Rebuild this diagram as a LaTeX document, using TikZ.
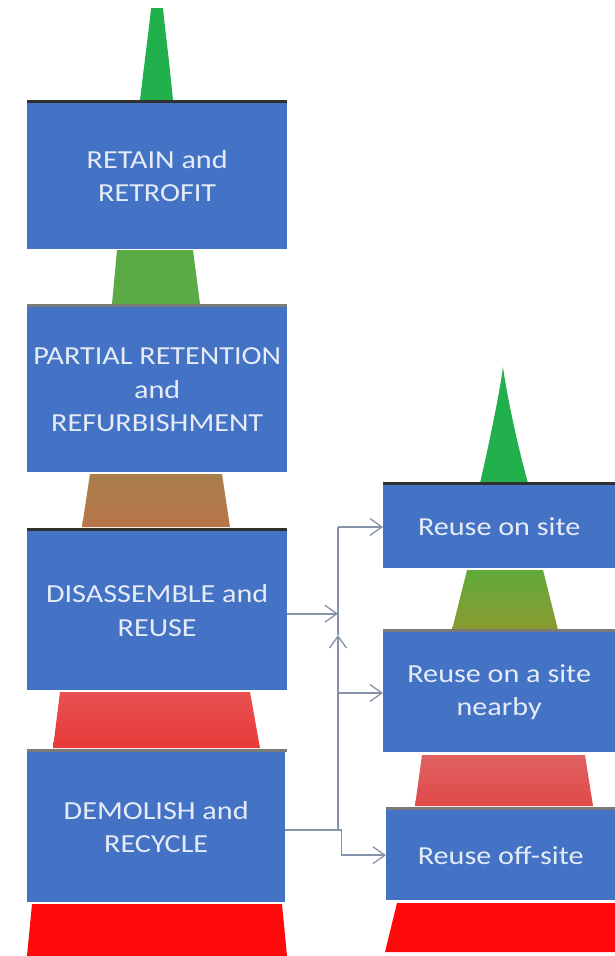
\documentclass[tikz,border=0pt]{standalone}
\usepackage{fontspec}
\usetikzlibrary{arrows.meta}
\newfontfamily\boxfontfam[FakeStretch=1.16]{Carlito}
\definecolor{boxblue}{HTML}{4472C4}
\definecolor{txtcol}{HTML}{E6ECF7}
\definecolor{conncol}{HTML}{8592A8}
\definecolor{topdark}{HTML}{303030}
\definecolor{topgray}{HTML}{7A7A7A}
\definecolor{spiregreen}{HTML}{22B04C}
\definecolor{tgreen}{HTML}{5AAB46}
\definecolor{tbrownA}{HTML}{A87E4A}
\definecolor{tbrownB}{HTML}{B8744A}
\definecolor{tredA}{HTML}{E85050}
\definecolor{tredB}{HTML}{E83A3A}
\definecolor{tred}{HTML}{FF0A0A}
\definecolor{tolivA}{HTML}{62AA3C}
\definecolor{tolivB}{HTML}{8A9A30}
\definecolor{tredrA}{HTML}{E06060}
\definecolor{tredrB}{HTML}{E04A4A}
\tikzset{
  box/.style={fill=boxblue, draw=none, text=txtcol, align=center,
    font=\boxfontfam\fontsize{26}{33.5}\selectfont, inner sep=0pt, anchor=north west},
  topline/.style={line width=3pt},
  conn/.style={draw=conncol, line width=1.6pt},
  arr/.style={conn, -{Straight Barb[length=12pt,width=17pt,line width=1.3pt]}},
}
\begin{document}
\begin{tikzpicture}[x=1pt,y=-1pt]
\useasboundingbox (0,0) rectangle (615,956);
% ---------- left column ----------
\fill[spiregreen] (140,100) .. controls (146,50) and (150,20) .. (151,8) -- (163,8) .. controls (164,20) and (168,50) .. (173,100) -- cycle;
\draw[topline,topdark] (27,101) -- (287,101);
\node[box, minimum width=260pt, minimum height=146pt] (ret) at (27,103) {RETAIN and\\RETROFIT};
\fill[tgreen] (117,250) -- (193,250) -- (200,304) -- (112,304) -- cycle;
\draw[topline,topgray] (27,305) -- (287,305);
\node[box, minimum width=260pt, minimum height=165pt] (par) at (27,307) {PARTIAL RETENTION\\and\\REFURBISHMENT};
\shade[top color=tbrownA, bottom color=tbrownB] (90,474) -- (222,474) -- (230,527) -- (82,527) -- cycle;
\draw[topline,topdark] (27,529) -- (287,529);
\node[box, minimum width=260pt, minimum height=159pt] (dis) at (27,531) {DISASSEMBLE and\\REUSE};
\shade[top color=tredA, bottom color=tredB] (60,692) -- (250,692) -- (260,748) -- (53,748) -- cycle;
\draw[topline,topgray] (27,750) -- (287,750);
\node[box, minimum width=258pt, minimum height=150pt] (dem) at (27,752) {DEMOLISH and\\RECYCLE};
\fill[tred] (32,904) -- (282,904) -- (287,956) -- (27,956) -- cycle;
% ---------- right column ----------
\fill[spiregreen] (480,483) .. controls (490,440) and (500,390) .. (503,367) .. controls (506,390) and (516,440) .. (528,483) -- cycle;
\draw[topline,topdark] (383,483) -- (615,483);
\node[box, minimum width=232pt, minimum height=83pt] (onsite) at (383,485) {Reuse on site};
\shade[top color=tolivA, bottom color=tolivB] (467,570) -- (543,570) -- (558,630) -- (452,630) -- cycle;
\draw[topline,topgray] (383,630) -- (615,630);
\node[box, minimum width=232pt, minimum height=120pt] (nearby) at (383,632) {Reuse on a site\\nearby};
\shade[top color=tredrA, bottom color=tredrB] (422,755) -- (585,755) -- (593,806) -- (415,806) -- cycle;
\draw[topline,topgray] (386,808) -- (615,808);
\node[box, minimum width=229pt, minimum height=90pt] (offsite) at (386,810) {Reuse off-site};
\fill[tred] (397,903) -- (615,903) -- (615,952) -- (385,952) -- cycle;
% ---------- connectors ----------
\coordinate (vtop) at (338,527);
\coordinate (vup) at (338,635);
\coordinate (vmid) at (338,693);
\draw[conn] (vtop) -- (vup);
\draw[arr] (vtop) -- (vtop -| onsite.west);
\draw[arr] (vmid) -- (vmid -| nearby.west);
\draw[arr] ([yshift=-3pt]dis.east) -- ([yshift=-3pt]dis.east -| vtop);
\draw[arr] ([yshift=-3pt]dem.east) -| (vup);
\draw[arr] ([yshift=-3pt]dem.east) -- ++(56,0) |- (offsite.west);
\end{tikzpicture}
\end{document}
